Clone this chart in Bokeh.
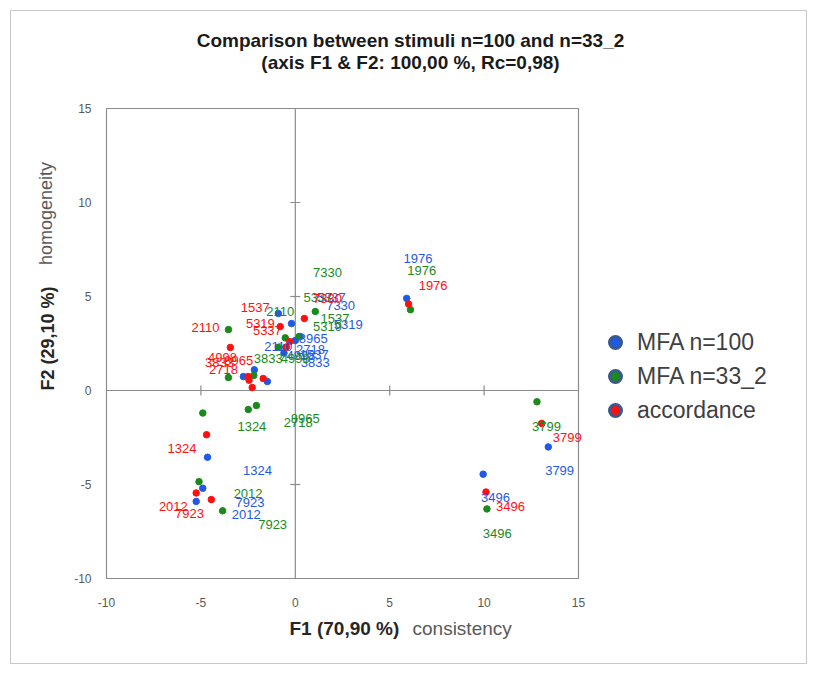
import math
from bokeh.plotting import figure
from bokeh.models import (Legend, LegendItem, ColumnDataSource, Label, Range1d)
from bokeh.embed import file_html
from bokeh.resources import INLINE

# ---------------- data ----------------
stimuli = ["1976", "3799", "3496", "1324", "2012", "7923", "7330", "5337",
           "1537", "2110", "5319", "2718", "8965", "3833", "4998"]

# MFA n=100 (blue)
mfa100_x = [5.9, 13.4, 9.95, -4.65, -5.25, -4.9, -0.9, -0.2, 0.0, -0.5, 0.26, -2.17, -1.48, -2.75, -0.6]
mfa100_y = [4.9, -3.0, -4.45, -3.55, -5.9, -5.2, 4.1, 3.56, 2.66, 2.3, 2.87, 1.1, 0.48, 0.74, 2.0]
# MFA n=33_2 (green)
mfa33_x = [6.1, 12.8, 10.15, -4.9, -5.1, -3.85, 1.06, -0.53, 0.2, -3.54, -0.9, -2.49, -2.06, -2.2, -3.54]
mfa33_y = [4.3, -0.6, -6.3, -1.2, -4.85, -6.4, 4.2, 2.8, 2.87, 3.24, 2.3, -1.01, -0.8, 0.8, 0.69]
# accordance (red)
acc_x = [6.0, 13.05, 10.1, -4.7, -5.25, -4.45, 0.48, -0.8, -0.48, -3.44, -0.3, -2.49, -1.7, -2.28, -2.45]
acc_y = [4.6, -1.75, -5.4, -2.35, -5.45, -5.8, 3.83, 3.4, 2.3, 2.29, 2.6, 0.74, 0.64, 0.16, 0.55]

# label anchor positions (data units), as placed in the original chart
mfa100_lx = [6.5, 14.0, 10.6, -2.0, -2.6, -2.4, 2.4, 1.9, 1.0, -0.9, 2.8, 0.8, 0.95, 1.06, 0.3]
mfa100_ly = [7.0, -4.26, -5.69, -4.26, -6.6, -5.96, 4.52, 4.95, 1.9, 2.35, 3.5, 2.2, 2.77, 1.49, 1.85]
mfa33_lx = [6.7, 13.3, 10.7, -2.3, -2.5, -1.2, 1.7, 1.2, 2.1, -0.8, 1.7, 0.16, 0.53, -1.43, 0.0]
mfa33_ly = [6.38, -1.91, -7.6, -1.91, -5.48, -7.13, 6.28, 4.95, 3.83, 4.2, 3.4, -1.7, -1.49, 1.7, 1.7]
acc_lx = [7.3, 14.4, 11.4, -6.0, -6.46, -5.6, 1.7, -1.48, -2.12, -4.76, -1.85, -3.8, -3.0, -4.02, -3.86]
acc_ly = [5.59, -2.5, -6.17, -3.09, -6.17, -6.54, 4.9, 3.19, 4.4, 3.35, 3.56, 1.12, 1.6, 1.49, 1.76]

x_ticks = [-10, -5, 0, 5, 10, 15]
y_ticks = [-10, -5, 0, 5, 10, 15]
x_tick_labels = [str(t) for t in x_ticks]
y_tick_labels = [str(t) for t in y_ticks]
series_names = ["MFA n=100", "MFA n=33_2", "accordance"]
title_lines = ["Comparison between stimuli n=100 and n=33_2",
               "(axis F1 & F2: 100,00 %, Rc=0,98)"]

# ---------------- layout (canvas pixels) ----------------
W, H = 797, 654
PX_L, PX_R, PX_T, PX_B = 95, 567, 97, 567   # plot-area box inside the canvas
kx = (PX_R - PX_L) / (x_ticks[-1] - x_ticks[0])
ky = (PX_B - PX_T) / (y_ticks[-1] - y_ticks[0])
x_range = Range1d(x_ticks[0] - PX_L / kx, x_ticks[-1] + (W - PX_R) / kx)
y_range = Range1d(y_ticks[0] - (H - PX_B) / ky, y_ticks[-1] + PX_T / ky)

BLUE = "#1f5ae6"
GREEN = "#1a8a1a"
RED = "#ff1010"
AXIS = "#8c8c8c"
TXT = "#595959"
FONT = "Liberation Sans"

p = figure(width=W, height=H, x_range=x_range, y_range=y_range,
           output_backend="svg", toolbar_location=None,
           x_axis_location=None, y_axis_location=None,
           min_border=0, min_border_left=0, min_border_right=0,
           min_border_top=0, min_border_bottom=0)
p.styles = {"border": "1px solid #c8c8c8", "margin": "10px 0 0 10px"}
p.xgrid.visible = False
p.ygrid.visible = False
p.outline_line_color = None
p.extra_y_ranges = {"legend_only": Range1d(1e6, 1e6 + 1)}

# plot-area box, zero axes and their tick marks
p.quad(left=[x_ticks[0]], right=[x_ticks[-1]], bottom=[y_ticks[0]], top=[y_ticks[-1]],
       fill_color=None, line_color=AXIS, line_width=1.2)
p.segment(x0=[x_ticks[0], 0], y0=[0, y_ticks[0]], x1=[x_ticks[-1], 0], y1=[0, y_ticks[-1]],
          line_color=AXIS, line_width=1.2)
inner_x = [t for t in x_ticks if t not in (x_ticks[0], 0, x_ticks[-1])]
inner_y = [t for t in y_ticks if t not in (y_ticks[0], 0, y_ticks[-1])]
p.scatter(x=inner_x, y=[0] * len(inner_x), marker="dash", size=10, angle=math.pi / 2,
          line_color=AXIS, line_width=1.2)
p.scatter(x=[0] * len(inner_y), y=inner_y, marker="dash", size=10,
          line_color=AXIS, line_width=1.2)

# tick labels
p.text(x=x_ticks, y=[y_ticks[0]] * len(x_ticks), text=x_tick_labels, y_offset=24,
       text_align="center", text_baseline="middle", text_color=TXT,
       text_font_size="12px", text_font={"value": FONT})
p.text(x=[x_ticks[0]] * len(y_ticks), y=y_ticks, text=y_tick_labels, x_offset=-15,
       text_align="right", text_baseline="middle", text_color=TXT,
       text_font_size="12px", text_font={"value": FONT})

series = [
    (mfa100_x, mfa100_y, mfa100_lx, mfa100_ly, BLUE),
    (mfa33_x, mfa33_y, mfa33_lx, mfa33_ly, GREEN),
    (acc_x, acc_y, acc_lx, acc_ly, RED),
]
items = []
for (xs, ys, lx, ly, col), name in zip(series, series_names):
    src = ColumnDataSource(dict(x=xs, y=ys))
    p.scatter("x", "y", source=src, size=6.5, fill_color=col, line_color=col)
    # ringed marker used only by the legend (its range puts it off-canvas)
    ring = p.scatter("x", "y", source=src, y_range_name="legend_only",
                     marker="circle", size=12, fill_color=col,
                     line_color="#3a5a8c", line_width=3)
    items.append(LegendItem(label=name, renderers=[ring]))
for xs, ys, lx, ly, col in series:
    lsrc = ColumnDataSource(dict(x=lx, y=ly, t=stimuli))
    p.text("x", "y", text="t", source=lsrc, text_color=col, text_font_size="13px",
           text_align="center", text_baseline="middle", text_font={"value": FONT})

legend = Legend(items=items, location=(589, 240), glyph_width=30, glyph_height=30,
                spacing=4, padding=0, margin=0, label_standoff=7,
                label_text_font=FONT, label_text_font_size="23px",
                label_text_color="#404040", border_line_color=None,
                background_fill_alpha=0)
p.add_layout(legend)


def lab(text, x, y, size, bold=False, color="black", align="center", angle=0.0):
    p.add_layout(Label(x=x, y=y, x_units="screen", y_units="screen", text=text,
                       text_font=FONT, text_font_size=size,
                       text_font_style="bold" if bold else "normal",
                       text_color=color, text_align=align, text_baseline="middle",
                       angle=angle))


lab(title_lines[0], 399, 625, "19px", bold=True, color="#1a1a1a")
lab(title_lines[1], 399, 603, "19px", bold=True, color="#1a1a1a")
lab("F1 (70,90 %)", 278, 37, "19px", bold=True, color="#262626", align="left")
lab("consistency", 401, 37, "19px", color=TXT, align="left")
lab("F2 (29,10 %)", 36, 327, "18px", bold=True, color="#262626", angle=math.pi / 2)
lab("homogeneity", 34, 452, "18px", color=TXT, angle=math.pi / 2)

open("out.html", "w").write(file_html(p, INLINE))
